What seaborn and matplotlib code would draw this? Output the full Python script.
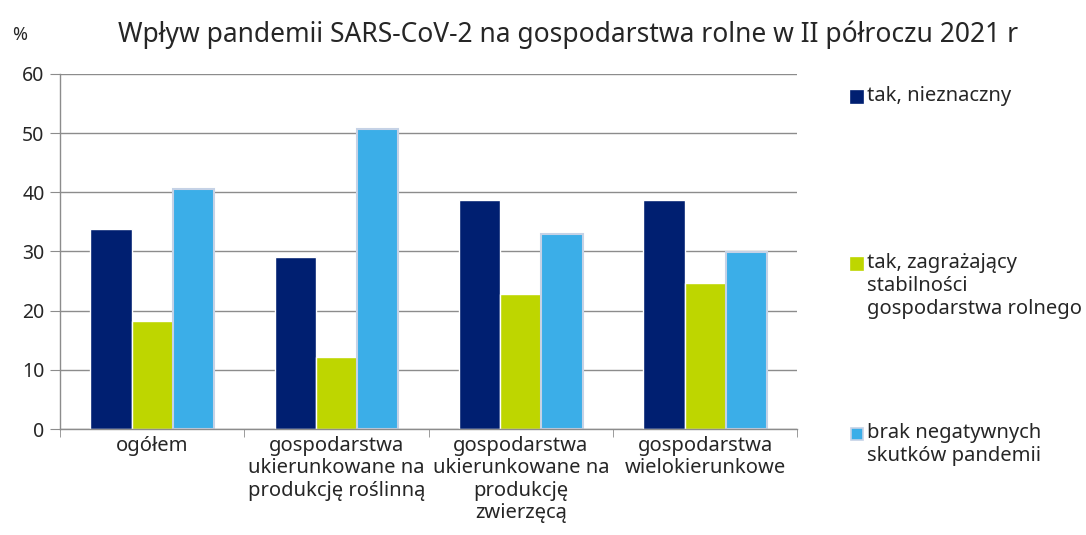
import matplotlib
matplotlib.use('Agg')

import pandas as pd
import matplotlib.pyplot as plt
from matplotlib.patches import Rectangle
import seaborn as sns

# categories and series
kategorie = ['ogółem',
             'gospodarstwa\nukierunkowane na\nprodukcję roślinną',
             'gospodarstwa\nukierunkowane na\nprodukcję\nzwierzęcą',
             'gospodarstwa\nwielokierunkowe']
serie = ['tak, nieznaczny',
         'tak, zagrażający\nstabilności\ngospodarstwa rolnego',
         'brak negatywnych\nskutków pandemii']
nieznaczny = [33.8, 29.1, 38.7, 38.7]
zagrazajacy = [18.2, 12.2, 22.8, 24.7]
brak = [40.6, 50.7, 33.0, 29.9]
kolory = ['#001F71', '#BED600', '#3BAEE8']

rows = []
for s, vals in zip(serie, [nieznaczny, zagrazajacy, brak]):
    for k, v in zip(kategorie, vals):
        rows.append({'kategoria': k, 'seria': s, 'wartosc': v})
df = pd.DataFrame(rows)

sns.set_style('white')
plt.rcParams['font.family'] = ['Noto Sans', 'DejaVu Sans']

fig = plt.figure(figsize=(10.86, 5.35), dpi=100)
ax = fig.add_axes([0.0552, 0.198, 0.679, 0.664])

sns.barplot(data=df, x='kategoria', y='wartosc', hue='seria', palette=kolory,
            width=0.67, saturation=1, ax=ax, legend=False)

for p in ax.containers[2]:
    p.set_edgecolor('#C5D2E6')
    p.set_linewidth(1.5)

ax.set_ylim(0, 60)
ax.set_xlim(-0.5, 3.5)
ax.set_yticks(range(0, 61, 10))
ax.yaxis.grid(True, color='#8C8C8C', linewidth=1)
ax.set_axisbelow(True)
ax.set_xlabel('')
ax.set_ylabel('')
for sp in ['top', 'right']:
    ax.spines[sp].set_visible(False)
for sp in ['left', 'bottom']:
    ax.spines[sp].set_color('#8C8C8C')
    ax.spines[sp].set_linewidth(1)
ax.tick_params(axis='y', left=True, length=7, color='#8C8C8C', labelsize=14, pad=4)
ax.tick_params(axis='x', which='major', length=0, labelsize=14.5, pad=5)
ax.set_xticks([-0.5, 0.5, 1.5, 2.5, 3.5], minor=True)
ax.tick_params(axis='x', which='minor', bottom=True, length=6, color='#8C8C8C')
for t in ax.get_xticklabels():
    t.set_linespacing(1.15)

fig.text(0.5235, 0.935, 'Wpływ pandemii SARS-CoV-2 na gospodarstwa rolne w II półroczu 2021 r',
         ha='center', va='center', fontsize=19)
fig.text(0.011, 0.935, '%', ha='left', va='center', fontsize=13)

# legend entries placed one by one, square next to the first line
srodki = [97, 264, 434]
H, W = 535.0, 1086.0
for kol, s, yc in zip(kolory, serie, srodki):
    edge = '#C5D2E6' if kol == kolory[2] else kol
    fig.add_artist(Rectangle((851 / W, 1 - (yc + 6) / H), 12 / W, 12 / H,
                             transform=fig.transFigure, facecolor=kol,
                             edgecolor=edge, linewidth=1.2))
    fig.text(867 / W, 1 - (yc - 11) / H, s, ha='left', va='top',
             fontsize=14.5, linespacing=1.2)

fig.savefig('out.png', dpi=100)
